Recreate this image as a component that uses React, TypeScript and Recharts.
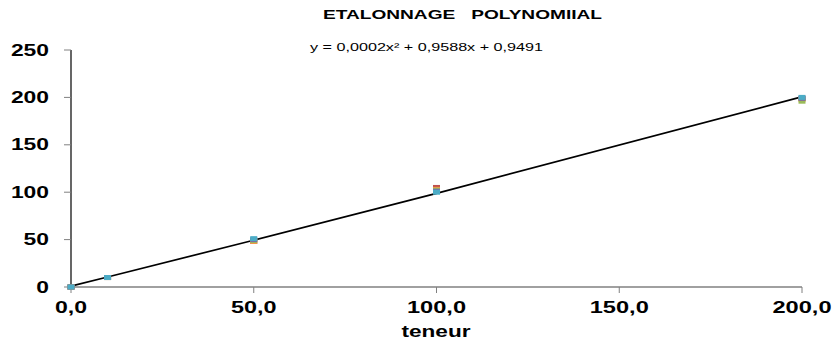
import { ComposedChart, Scatter, Line, XAxis, YAxis } from 'recharts';

// calibration points (teneur) and the measured series
const teneur = [0, 10, 50, 100, 200];
const essai1 = [0, 10, 51, 100, 200];
const essai2 = [0, 10, 48, 105, 199];
const essai3 = [0, 10, 49, 102, 196];
const essai4 = [0, 10, 50, 101, 199];
const essai5 = [0, 10, 48, 103, 198];
// trend line values
const courbe = [0.95, 10.5, 49.4, 98.8, 200.7];

const xTicks = [0, 50, 100, 150, 200];
const yTicks = [0, 50, 100, 150, 200, 250];

const FONT = '"Liberation Sans", Arial, sans-serif';

const toPoints = (vals: number[]) => teneur.map((x, i) => ({ x, y: vals[i] }));

const series = [
  { name: 'essai 2', values: essai2, color: '#C0504D' },
  { name: 'essai 5', values: essai5, color: '#F79646' },
  { name: 'essai 3', values: essai3, color: '#9BBB59' },
  { name: 'essai 4', values: essai4, color: '#8064A2' },
  { name: 'essai 1', values: essai1, color: '#4BACC6' },
];

const Square = (props: any) => {
  const { cx, cy, fill } = props;
  if (cx == null || cy == null) return null;
  return <rect x={cx - 3.5} y={cy - 2.5} width={7} height={5} fill={fill} />;
};

const YTick = ({ x, y, payload }: any) => {
  const s = String(payload.value);
  return (
    <text
      x={x - 13}
      y={y + 5.5}
      textAnchor="end"
      fontFamily={FONT}
      fontWeight="bold"
      fontSize={16}
      fill="#000"
      textLength={s.length * 12.7}
      lengthAdjust="spacingAndGlyphs"
    >
      {s}
    </text>
  );
};

const XTick = ({ x, y, payload }: any) => {
  const s = payload.value.toFixed(1).replace('.', ',');
  const w = s.replace(',', '').length * 13.5 + 5;
  return (
    <text
      x={x}
      y={y + 17.5}
      textAnchor="middle"
      fontFamily={FONT}
      fontWeight="bold"
      fontSize={16}
      fill="#000"
      textLength={w}
      lengthAdjust="spacingAndGlyphs"
    >
      {s}
    </text>
  );
};

export default function App() {
  return (
    <div style={{ position: 'absolute', left: 0, top: 0, width: 833, height: 344, background: '#fff' }}>
      <ComposedChart width={833} height={344} margin={{ top: 50, right: 31, bottom: 0, left: 0 }}>
        <XAxis
          dataKey="x"
          type="number"
          domain={[0, 200]}
          ticks={xTicks}
          height={57}
          axisLine={{ stroke: '#808080', strokeWidth: 1.5 }}
          tickLine={{ stroke: '#808080' }}
          tickSize={6}
          tick={<XTick />}
        />
        <YAxis
          dataKey="y"
          type="number"
          domain={[0, 250]}
          ticks={yTicks}
          width={71}
          axisLine={{ stroke: '#000', strokeWidth: 1.2 }}
          tickLine={{ stroke: '#808080' }}
          tickSize={7}
          tick={<YTick />}
        />
        <Line
          data={toPoints(courbe)}
          dataKey="y"
          type="monotone"
          stroke="#000"
          strokeWidth={1.7}
          dot={false}
          isAnimationActive={false}
        />
        {series.map((s) => (
          <Scatter
            key={s.name}
            name={s.name}
            data={toPoints(s.values)}
            fill={s.color}
            shape={<Square />}
            isAnimationActive={false}
          />
        ))}
      </ComposedChart>
      <svg
        width={833}
        height={344}
        style={{ position: 'absolute', left: 0, top: 0, pointerEvents: 'none' }}
      >
        <text
          x={323}
          y={18.5}
          fontFamily={FONT}
          fontWeight="bold"
          fontSize={13}
          textLength={279}
          lengthAdjust="spacingAndGlyphs"
          style={{ whiteSpace: 'pre' }}
        >
          {'ETALONNAGE   POLYNOMIIAL'}
        </text>
        <text
          x={310}
          y={51}
          fontFamily={FONT}
          fontSize={11}
          textLength={233}
          lengthAdjust="spacingAndGlyphs"
        >
          y = 0,0002x² + 0,9588x + 0,9491
        </text>
        <text
          x={436}
          y={337}
          textAnchor="middle"
          fontFamily={FONT}
          fontWeight="bold"
          fontSize={16}
          textLength={69}
          lengthAdjust="spacingAndGlyphs"
        >
          teneur
        </text>
      </svg>
    </div>
  );
}
